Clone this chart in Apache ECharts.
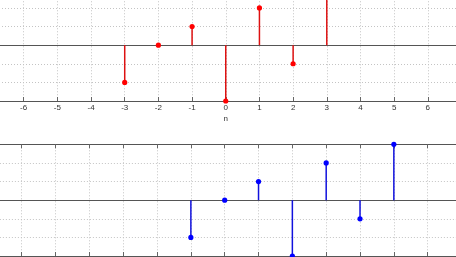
<!DOCTYPE html>
<html><head><meta charset="utf-8">
<script src="https://cdn.jsdelivr.net/npm/echarts@6/dist/echarts.min.js"></script>
<style>html,body{margin:0;padding:0;background:#fff;overflow:hidden;width:456px;height:257px}
#c{position:absolute;left:-13px;top:-12px;width:490px;height:290px}</style>
</head><body><div id="c"></div>
<script>
// Data
const nTop = [-3, -2, -1, 0, 1, 2, 3];
const valTop = [-2, 0, 1, -3, 2, -1, 3];
const nBottom = [-1, 0, 1, 2, 3, 4, 5];
const valBottom = [-2, 0, 1, -3, 2, -1, 3];
const xTickLabels = ['-6','-5','-4','-3','-2','-1','0','1','2','3','4','5','6'];

const offX = 13, offY = 12;
const chart = echarts.init(document.getElementById('c'), null, {renderer: 'canvas'});
const unitX = 33.83;
const x0 = 224.7;
const gridLeft = x0 - 7 * unitX + offX;
const gridWidth = 14 * unitX;
const unitY = 18.62;

function xAx(gi, pos, showLabels, name) {
  return {
    type: 'value', gridIndex: gi, position: pos, min: -7, max: 7, interval: 1,
    axisLine: {show: true, onZero: false, lineStyle: {color: '#555', width: 1.2}},
    axisTick: {show: true, inside: true, length: 4, lineStyle: {color: '#666'}},
    axisLabel: {show: showLabels, fontSize: 8, color: '#333', margin: 3, fontFamily: 'Liberation Sans',
      formatter: v => xTickLabels.includes(String(v)) ? String(v) : ''},
    splitLine: {show: pos === 'bottom', lineStyle: {color: '#c4c4c4', type: [1, 2], width: 1}},
    name: name || '', nameLocation: 'middle', nameGap: 14,
    nameTextStyle: {fontSize: 8, color: '#333', fontFamily: 'Liberation Sans'}
  };
}
function yAx(gi) {
  return {
    type: 'value', gridIndex: gi, min: -3, max: 3, interval: 1,
    axisLine: {show: false}, axisTick: {show: false}, axisLabel: {show: false},
    splitLine: {show: true, lineStyle: {color: '#c4c4c4', type: [1, 2], width: 1}}
  };
}
function stems(gi, ns, vs, col, lineCol) {
  const data = ns.map((n, i) => [n, vs[i]]);
  return {
    type: 'custom', xAxisIndex: gi * 2, yAxisIndex: gi, data: data, clip: false,
    renderItem: function (params, api) {
      const x = api.value(0), y = api.value(1);
      const p0 = api.coord([x, 0]);
      const p1 = api.coord([x, y]);
      return {type: 'group', children: [
        {type: 'line', shape: {x1: p0[0], y1: p0[1], x2: p1[0], y2: p1[1]},
          style: {stroke: lineCol, lineWidth: 1.5}},
        {type: 'circle', shape: {cx: p1[0], cy: p1[1], r: 2.6}, style: {fill: col}}
      ]};
    },
    markLine: {silent: true, symbol: 'none', label: {show: false},
      lineStyle: {color: '#555', type: 'solid', width: 1.2},
      data: [{yAxis: 0}]},
    z: 5
  };
}

chart.setOption({
  animation: false,
  grid: [
    {left: gridLeft, width: gridWidth, top: 101 - 6 * unitY + offY, height: 6 * unitY},
    {left: gridLeft, width: gridWidth, top: 144.3 + offY, height: 6 * unitY}
  ],
  xAxis: [
    xAx(0, 'bottom', true, 'n'), xAx(0, 'top', false),
    xAx(1, 'bottom', false), xAx(1, 'top', false)
  ],
  yAxis: [yAx(0), yAx(1)],
  series: [
    stems(0, nTop, valTop, '#ff0000', '#dd1111'),
    stems(1, nBottom, valBottom, '#0000ff', '#1111dd')
  ]
});
</script></body></html>
